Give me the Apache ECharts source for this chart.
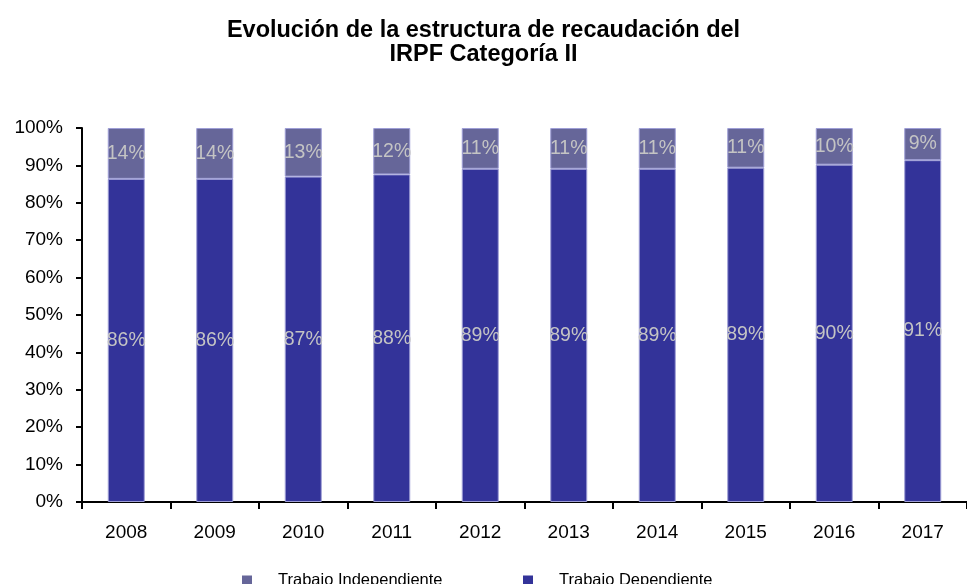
<!DOCTYPE html>
<html>
<head>
<meta charset="utf-8">
<script src="https://cdn.jsdelivr.net/npm/echarts@6/dist/echarts.min.js"></script>
<style>
  html, body { margin: 0; padding: 0; background: #fff; }
  #main { width: 967px; height: 584px; }
</style>
</head>
<body>
<div id="main"></div>
<script>
var years = ['2008', '2009', '2010', '2011', '2012', '2013', '2014', '2015', '2016', '2017'];
var dependiente = [86.4, 86.4, 87.0, 87.6, 89.1, 89.1, 89.1, 89.4, 90.2, 91.4];
var independiente = [13.6, 13.6, 13.0, 12.4, 10.9, 10.9, 10.9, 10.6, 9.8, 8.6];

var font = 'Liberation Sans, Arial, sans-serif';
var myChart = echarts.init(document.getElementById('main'));

var labelStyle = {
    show: true,
    position: 'inside',
    color: '#c4c4c4',
    fontSize: 19.5,
    fontFamily: font,
    formatter: function (p) {
        return Math.round(p.value) + '%';
    }
};

var legendText = { color: '#000', fontSize: 16.5, fontFamily: font, padding: [0, 0, 0, 21] };

var option = {
    animation: false,
    title: {
        text: 'Evolución de la estructura de recaudación del\nIRPF Categoría II',
        left: 'center',
        top: 14,
        textStyle: {
            color: '#000',
            fontSize: 23.5,
            fontWeight: 'bold',
            fontFamily: font,
            lineHeight: 24
        }
    },
    legend: [
        {
            data: ['Trabajo Independiente'],
            left: 237,
            top: 567,
            icon: 'rect',
            itemWidth: 10,
            itemHeight: 10,
            itemStyle: { borderWidth: 0 },
            textStyle: legendText
        },
        {
            data: ['Trabajo Dependiente'],
            left: 518,
            top: 567,
            icon: 'rect',
            itemWidth: 10,
            itemHeight: 10,
            itemStyle: { borderWidth: 0 },
            textStyle: legendText
        }
    ],
    grid: {
        left: 82,
        right: -11,
        top: 128,
        bottom: 82
    },
    xAxis: {
        type: 'category',
        data: years,
        axisLine: { lineStyle: { color: '#000', width: 2 } },
        axisTick: { show: true, length: 7, lineStyle: { color: '#000', width: 2 } },
        axisLabel: { color: '#000', fontSize: 19, fontFamily: font, margin: 21 }
    },
    yAxis: {
        type: 'value',
        min: 0,
        max: 100,
        interval: 10,
        axisLine: { show: true, lineStyle: { color: '#000', width: 2 } },
        axisTick: { show: true, length: 6, lineStyle: { color: '#000', width: 2 } },
        splitLine: { show: false },
        axisLabel: {
            color: '#000',
            fontSize: 19,
            fontFamily: font,
            margin: 19,
            formatter: '{value}%'
        }
    },
    series: [
        {
            name: 'Trabajo Dependiente',
            type: 'bar',
            stack: 'total',
            barWidth: 37,
            itemStyle: { color: '#333399', borderColor: '#9e9ed6', borderWidth: 1 },
            label: labelStyle,
            data: dependiente
        },
        {
            name: 'Trabajo Independiente',
            type: 'bar',
            stack: 'total',
            barWidth: 37,
            itemStyle: { color: '#666699', borderColor: '#9e9ed6', borderWidth: 1 },
            label: labelStyle,
            data: independiente
        }
    ]
};
myChart.setOption(option);
</script>
</body>
</html>
